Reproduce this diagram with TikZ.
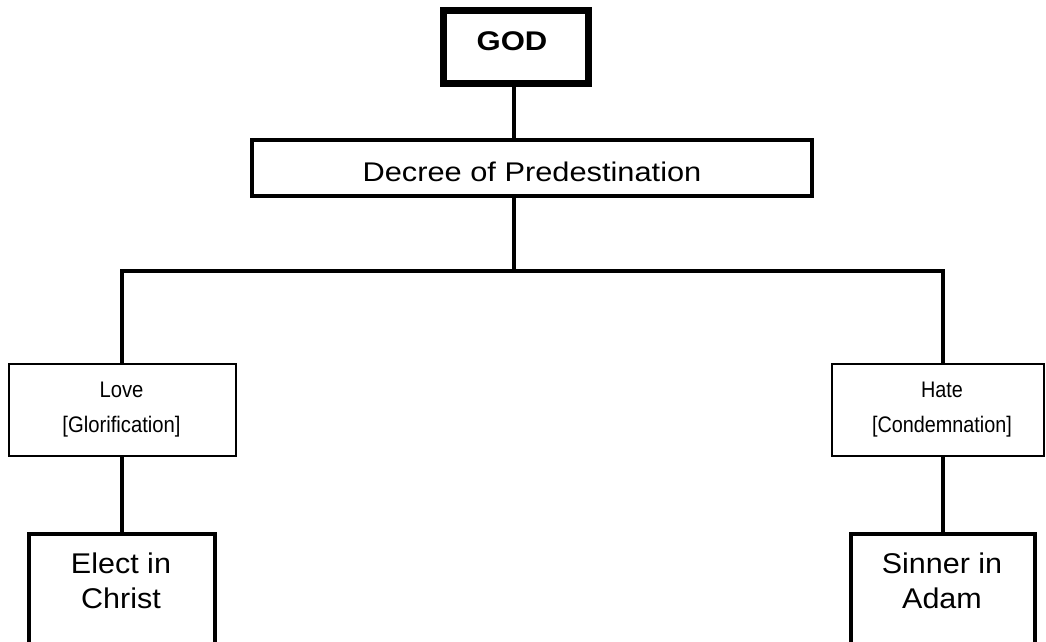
\documentclass[tikz,border=0pt]{standalone}
\usepackage{fontspec}
\setmainfont{Liberation Sans}
\newcommand{\twolines}[3]{\scalebox{#1}[1]{\begin{tabular}{@{}c@{}}#2\\\relax{}#3\end{tabular}}}
\tikzset{
  box/.style={draw, rectangle, inner sep=0pt, fill=white, line join=miter},
  godbox/.style={box, line width=7pt, minimum width=145pt, minimum height=73pt},
  decbox/.style={box, line width=4.3pt, minimum width=560pt, minimum height=56pt},
  midbox/.style={box, line width=2pt, minimum height=92pt},
  endbox/.style={box, line width=4pt, minimum height=166pt},
  link/.style={line width=4pt, line join=miter},
  godtxt/.style={font=\fontsize{27}{32}\selectfont\bfseries, inner sep=0pt},
  dectxt/.style={font=\fontsize{27}{32}\selectfont, inner sep=0pt},
  midtxt/.style={font=\fontsize{22.5}{35}\selectfont, inner sep=0pt},
  endtxt/.style={font=\fontsize{28.5}{35}\selectfont, inner sep=0pt},
}
\begin{document}
\begin{tikzpicture}[x=1pt, y=-1pt]
\useasboundingbox (0,0) rectangle (1046,642);
\fill[white] (0,0) rectangle (1046,642);
\clip (0,0) rectangle (1046,642);

\node[godbox, label={[godtxt, yshift=6pt, xshift=-4pt]center:\scalebox{1.15}[1]{GOD}}] (god) at (516,47) {};
\node[decbox, label={[dectxt, yshift=-4pt]center:\scalebox{1.14}[1]{Decree of Predestination}}] (decree) at (532,168) {};
\node[midbox, minimum width=227pt, label={[midtxt, yshift=2.5pt, xshift=-1pt]center:\twolines{0.9}{Love}{[Glorification]}}] (love) at (122.5,410) {};
\node[midbox, minimum width=212pt, label={[midtxt, yshift=2.5pt, xshift=4pt]center:\twolines{0.88}{Hate}{[Condemnation]}}] (hate) at (938,410) {};
\node[endbox, minimum width=186pt, label={[endtxt, yshift=33.5pt, xshift=-1pt]center:\twolines{1.07}{Elect in}{Christ}}] (elect) at (122,617) {};
\node[endbox, minimum width=184pt, label={[endtxt, yshift=33.5pt, xshift=-1pt]center:\twolines{1.07}{Sinner in}{Adam}}] (sinner) at (943,617) {};

\coordinate (hub) at (514,271);
\coordinate (lc) at (122,271);
\coordinate (rc) at (943,271);

\draw[link] (god.south -| hub) -- (decree.north -| hub);
\draw[link] (decree.south -| hub) -- (hub);
\draw[link] (love.north -| lc) -- (lc) -- (rc) -- (hate.north -| rc);
\draw[link] (love.south -| lc) -- (elect.north -| lc);
\draw[link] (hate.south -| rc) -- (sinner.north -| rc);
\end{tikzpicture}
\end{document}
